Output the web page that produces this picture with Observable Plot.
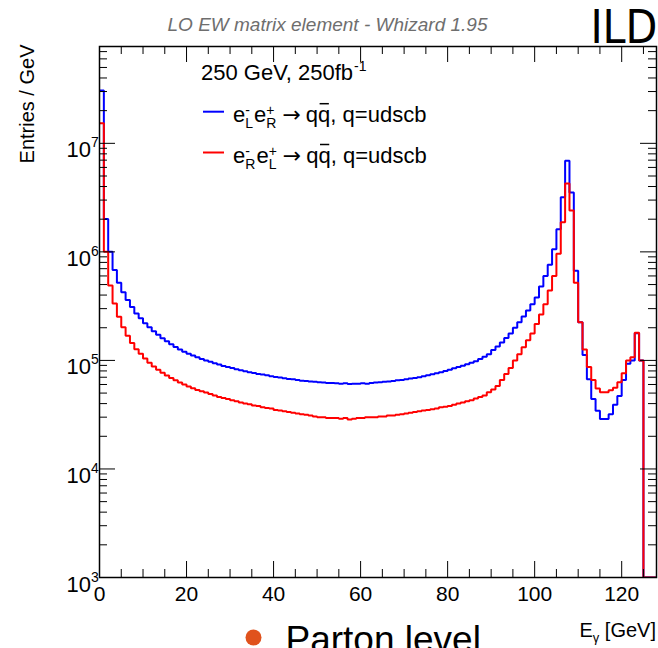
<!DOCTYPE html>
<html><head><meta charset="utf-8">
<script src="https://cdn.jsdelivr.net/npm/d3@7"></script>
<script src="https://cdn.jsdelivr.net/npm/@observablehq/plot@0.6"></script>
<style>
html,body{margin:0;padding:0;background:#fff;}
#chart{width:658px;height:648px;overflow:hidden;}
</style></head><body><div id="chart"></div>
<script>
// Histogram: 1 GeV bins from 0 to 128 GeV (bin i covers [i, i+1])
const binLow = d3.range(0, 128);
const blueValues = [
3.06e7,2.01e6,1.0e6,6.8e5,5.2e5,4.25e5,3.6e5,3.1e5,2.7e5,2.45e5,
2.2e5,2.02e5,1.86e5,1.72e5,1.6e5,1.5e5,1.41e5,1.33e5,1.26e5,1.2e5,
1.15e5,1.11e5,1.07e5,1.03e5,1.0e5,9.7e4,9.4e4,9.15e4,8.9e4,8.7e4,
8.5e4,8.3e4,8.1e4,7.95e4,7.8e4,7.65e4,7.5e4,7.4e4,7.3e4,7.15e4,
7.05e4,6.95e4,6.85e4,6.75e4,6.7e4,6.6e4,6.5e4,6.45e4,6.4e4,6.35e4,
6.3e4,6.25e4,6.2e4,6.2e4,6.15e4,6.1e4,6.15e4,6.05e4,6.1e4,6.1e4,
6.15e4,6.1e4,6.2e4,6.25e4,6.3e4,6.35e4,6.4e4,6.45e4,6.55e4,6.6e4,
6.7e4,6.8e4,6.9e4,7.0e4,7.15e4,7.3e4,7.45e4,7.6e4,7.8e4,8.0e4,
8.2e4,8.45e4,8.7e4,8.95e4,9.2e4,9.5e4,9.8e4,1.03e5,1.08e5,1.14e5,
1.25e5,1.34e5,1.46e5,1.61e5,1.77e5,2.0e5,2.25e5,2.54e5,2.88e5,3.3e5,
3.8e5,4.8e5,6.0e5,7.6e5,1.06e6,1.62e6,3.18e6,6.9e6,3.53e6,6.7e5,
2.25e5,1.12e5,6.7e4,4.4e4,3.44e4,2.89e4,2.89e4,3.2e4,3.9e4,4.7e4,
6.6e4,9.3e4,1.0e5,1.78e5,1.0e5,0,0,0];
const redValues = [
1.53e7,1.0e6,4.9e5,3.35e5,2.53e5,2.02e5,1.69e5,1.45e5,1.27e5,1.15e5,
1.04e5,9.5e4,8.8e4,8.2e4,7.7e4,7.25e4,6.9e4,6.55e4,6.25e4,6.0e4,
5.75e4,5.55e4,5.35e4,5.2e4,5.05e4,4.9e4,4.75e4,4.6e4,4.5e4,4.4e4,
4.3e4,4.2e4,4.1e4,4.0e4,3.95e4,3.85e4,3.8e4,3.7e4,3.65e4,3.6e4,
3.5e4,3.45e4,3.4e4,3.35e4,3.3e4,3.25e4,3.2e4,3.15e4,3.1e4,3.05e4,
3.0e4,3.0e4,2.95e4,2.95e4,2.95e4,2.9e4,2.95e4,2.85e4,2.9e4,2.95e4,
2.95e4,3.0e4,3.0e4,3.0e4,3.05e4,3.05e4,3.1e4,3.1e4,3.15e4,3.2e4,
3.25e4,3.3e4,3.35e4,3.4e4,3.45e4,3.5e4,3.55e4,3.6e4,3.7e4,3.75e4,
3.8e4,3.9e4,4.0e4,4.1e4,4.2e4,4.3e4,4.45e4,4.6e4,4.75e4,5.1e4,
5.4e4,5.8e4,6.6e4,7.5e4,8.5e4,1.0e5,1.14e5,1.32e5,1.53e5,1.77e5,
2.16e5,2.65e5,3.3e5,4.4e5,6.0e5,9.6e5,1.87e6,4.27e6,2.4e6,5.2e5,
2.25e5,1.26e5,8.7e4,6.6e4,5.5e4,5.1e4,5.1e4,5.3e4,5.6e4,6.3e4,
7.6e4,1.0e5,1.07e5,1.8e5,1.0e5,0,0,0];

const xTickValues = [0, 20, 40, 60, 80, 100, 120];
const xTickLabels = ["0", "20", "40", "60", "80", "100", "120"];
const xMinorValues = [5,10,15,25,30,35,45,50,55,65,70,75,85,90,95,105,110,115,125];
const yTickValues = [1e3, 1e4, 1e5, 1e6, 1e7];
const yTickExponents = ["3", "4", "5", "6", "7"];
const yMinorValues = [];
for (const p of [1e3, 1e4, 1e5, 1e6, 1e7]) for (const m of [2,3,4,5,6,7,8,9]) if (m * p < 7.8e7) yMinorValues.push(m * p);

const seriesLabels = [["L","R"], ["R","L"]];
const seriesColors = ["#0000ff", "#ff0000"];

const X_MIN = 0, X_MAX = 128, Y_MIN = 1e3, Y_MAX = 7.8e7;
function steps(values) {
  const pts = binLow.map((x, i) => ({x, v: Math.max(values[i], Y_MIN)}));
  pts.push({x: X_MAX, v: Math.max(values[values.length - 1], Y_MIN)});
  return pts;
}
const blueSteps = steps(blueValues);
const redSteps = steps(redValues);

const W = 658, H = 648, ML = 99, MR = 2, MT = 46, MB = 71;
const FW = W - ML - MR, FH = H - MT - MB;
const MAJ = 16, MIN = 8;
const font = "'Liberation Sans', Arial, Helvetica, sans-serif";

const svg = Plot.plot({
  width: W, height: H,
  marginLeft: ML, marginRight: MR, marginTop: MT, marginBottom: MB,
  style: {fontFamily: font, background: "white", overflow: "visible"},
  x: {domain: [X_MIN, X_MAX], axis: null},
  y: {type: "log", domain: [Y_MIN, Y_MAX], axis: null},
  marks: [
    Plot.line(blueSteps, {x: "x", y: "v", curve: "step-after", stroke: seriesColors[0], strokeWidth: 2, strokeLinejoin: "miter", strokeLinecap: "butt", clip: true}),
    Plot.line(redSteps, {x: "x", y: "v", curve: "step-after", stroke: seriesColors[1], strokeWidth: 2, strokeLinejoin: "miter", strokeLinecap: "butt", clip: true}),
    Plot.ruleX(xTickValues, {x: d => d, insetTop: FH - MAJ, stroke: "black", strokeWidth: 1}),
    Plot.ruleX(xTickValues, {x: d => d, insetBottom: FH - MAJ, stroke: "black", strokeWidth: 1}),
    Plot.ruleX(xMinorValues, {x: d => d, insetTop: FH - MIN, stroke: "black", strokeWidth: 1}),
    Plot.ruleX(xMinorValues, {x: d => d, insetBottom: FH - MIN, stroke: "black", strokeWidth: 1}),
    Plot.ruleY(yTickValues, {y: d => d, insetRight: FW - MAJ, stroke: "black", strokeWidth: 1}),
    Plot.ruleY(yTickValues, {y: d => d, insetLeft: FW - MAJ, stroke: "black", strokeWidth: 1}),
    Plot.ruleY(yMinorValues, {y: d => d, insetRight: FW - MIN, stroke: "black", strokeWidth: 1}),
    Plot.ruleY(yMinorValues, {y: d => d, insetLeft: FW - MIN, stroke: "black", strokeWidth: 1}),
    Plot.frame({stroke: "black", strokeWidth: 1.5}),
    Plot.text(xTickValues, {x: d => d, text: (d, i) => xTickLabels[i], frameAnchor: "bottom", dy: 23, lineAnchor: "bottom", fontSize: 21, fill: "black"}),
    Plot.text(yTickValues, {y: d => d, text: () => "10", frameAnchor: "left", textAnchor: "end", dx: -8.5, dy: 14, lineAnchor: "bottom", fontSize: 22, fill: "black"}),
    Plot.text(yTickValues, {y: d => d, text: (d, i) => yTickExponents[i], frameAnchor: "left", textAnchor: "start", dx: -8.5, dy: 4, lineAnchor: "bottom", fontSize: 14, fill: "black"}),
    Plot.text(["Entries / GeV"], {frameAnchor: "top-left", rotate: -90, textAnchor: "end", lineAnchor: "bottom", dx: -66, dy: -2, fontSize: 20, fill: "black"}),
    Plot.text(["LO EW matrix element - Whizard 1.95"], {frameAnchor: "top-left", textAnchor: "middle", lineAnchor: "bottom", dx: 327 - ML, dy: 30 - MT, fontSize: 19, fontStyle: "italic", fill: "#6e6e6e"}),
    Plot.text(["ILD"], {frameAnchor: "top-right", textAnchor: "end", lineAnchor: "bottom", dx: 1, dy: 42 - MT, fontSize: 46, fill: "black", fontFamily: "'Liberation Sans Narrow', 'DejaVu Sans Condensed', sans-serif"}),
    Plot.dot([0], {frameAnchor: "bottom-left", dx: 253 - ML, dy: 637 - (H - MB), r: 8, fill: "#e0521c", stroke: "none"}),
    Plot.text(["Parton level"], {frameAnchor: "bottom-left", textAnchor: "start", lineAnchor: "bottom", dx: 285 - ML, dy: 651 - (H - MB), fontSize: 37, fill: "black"})
  ]
});
document.getElementById("chart").append(svg);

// Rich text annotations (sub/superscripts)
const s = d3.select(svg);
const g = s.append("g").attr("font-family", font).attr("fill", "black").attr("text-anchor", "start");
function put(x, y, str, size, family) {
  const t = g.append("text").attr("x", x).attr("y", y).attr("font-size", size).attr("text-anchor", "start").text(str);
  if (family) t.attr("font-family", family);
  return t.node().getComputedTextLength();
}
function measure(str, size) {
  const t = g.append("text").attr("font-size", size).text(str);
  const w = t.node().getComputedTextLength(); t.remove(); return w;
}
{
  let x = 201, y = 80;
  x += put(x, y, "250 GeV, 250fb", 22);
  put(x + 1, y - 9, "-1", 14);
}
function entry(y, color, subs) {
  g.append("line").attr("x1", 203).attr("x2", 224).attr("y1", y - 10).attr("y2", y - 10)
    .attr("stroke", color).attr("stroke-width", 2);
  let x = 233;
  const sup = ["-", "+"];
  for (let k = 0; k < 2; k++) {
    x += put(x, y, "e", 22);
    const w1 = put(x, y - 7, sup[k], 14);
    const w2 = put(x, y + 6.5, subs[k], 14);
    x += Math.max(w1, w2) + 1;
  }
  x += 5;
  x += put(x, y, "\u2192", 22, "'DejaVu Sans', sans-serif");
  x += 5;
  x += put(x, y, "q", 22);
  const wq = put(x, y, "q", 22);
  g.append("line").attr("x1", x + 1.5).attr("x2", x + wq - 1.5).attr("y1", y - 18).attr("y2", y - 18)
    .attr("stroke", "black").attr("stroke-width", 1.5);
  x += wq;
  put(x, y, ", q=udscb", 22);
}
entry(121.7, seriesColors[0], seriesLabels[0]);
entry(162.5, seriesColors[1], seriesLabels[1]);
{
  const size = 20, y = 637;
  const wE = measure("E", size), wg = measure("\u03b3", 13), wr = measure(" [GeV]", size);
  let x = W - MR - (wE + wg + wr);
  x += put(x, y, "E", size);
  x += put(x, y + 5, "\u03b3", 13);
  put(x, y, " [GeV]", size);
}
</script></body></html>
